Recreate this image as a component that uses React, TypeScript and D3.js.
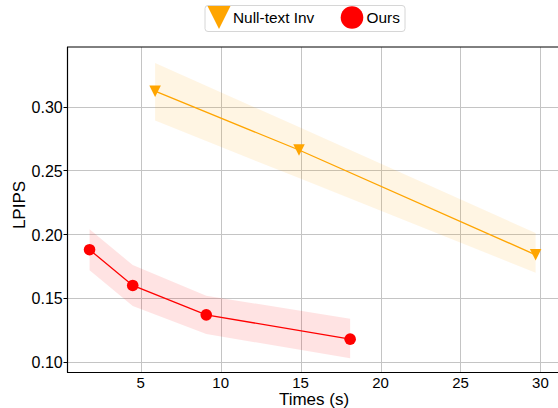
import React, { useEffect, useRef } from 'react';
import * as d3 from 'd3';

// Ours
const oursTimes = [1.8, 4.5, 9.1, 18.1];
const oursLpips = [0.188, 0.16, 0.137, 0.118];
const oursLower = [0.172, 0.144, 0.122, 0.103];
const oursUpper = [0.204, 0.176, 0.152, 0.134];

// Null-text Inversion
const nullTimes = [5.9, 14.9, 29.7];
const nullLpips = [0.312, 0.266, 0.184];
const nullLower = [0.289, 0.244, 0.17];
const nullUpper = [0.334, 0.284, 0.201];

const xTicks = [5, 10, 15, 20, 25, 30];
const yTicks = [0.1, 0.15, 0.2, 0.25, 0.3];

const FONT = '"Liberation Sans", Arial, sans-serif';

const App = () => {
  const svgRef = useRef<SVGSVGElement>(null);
  const width = 558;
  const height = 408;

  useEffect(() => {
    const svg = d3.select(svgRef.current);
    svg.selectAll('*').remove();

    const left = 67, top = 47, right = 558, bottom = 372.5;

    const x = d3.scaleLinear().domain([0.39, 31.1]).range([left, right]);
    const y = d3.scaleLinear().domain([0.0919, 0.3466]).range([bottom, top]);

    svg.append('rect').attr('width', width).attr('height', height).attr('fill', '#fff');

    // grid
    const grid = svg.append('g').attr('stroke', '#c4c4c4').attr('stroke-width', 1);
    xTicks.forEach(t => {
      grid.append('line')
        .attr('x1', Math.round(x(t)) + 0.5).attr('x2', Math.round(x(t)) + 0.5)
        .attr('y1', top).attr('y2', bottom);
    });
    yTicks.forEach(t => {
      grid.append('line')
        .attr('x1', left).attr('x2', right)
        .attr('y1', Math.round(y(t)) + 0.5).attr('y2', Math.round(y(t)) + 0.5);
    });

    // bands
    const band = (xs: number[], lo: number[], hi: number[]) =>
      d3.area<number>()
        .x((_, i) => x(xs[i]))
        .y0((_, i) => y(lo[i]))
        .y1((_, i) => y(hi[i]))(xs.map((_, i) => i));

    svg.append('path').attr('d', band(oursTimes, oursLower, oursUpper))
      .attr('fill', 'red').attr('fill-opacity', 0.11);
    svg.append('path').attr('d', band(nullTimes, nullLower, nullUpper))
      .attr('fill', 'orange').attr('fill-opacity', 0.11);

    const line = (xs: number[], ys: number[]) =>
      d3.line<number>().x(i => x(xs[i])).y(i => y(ys[i]))(xs.map((_, i) => i));

    svg.append('path').attr('d', line(nullTimes, nullLpips))
      .attr('fill', 'none').attr('stroke', 'orange').attr('stroke-width', 1.3);
    svg.append('path').attr('d', line(oursTimes, oursLpips))
      .attr('fill', 'none').attr('stroke', 'red').attr('stroke-width', 1.3);

    const tri = (s: number) => `M${-s / 2},${-s / 2}L${s / 2},${-s / 2}L0,${s / 2}Z`;

    nullTimes.forEach((t, i) => {
      svg.append('path').attr('d', tri(11.5))
        .attr('transform', `translate(${x(t)},${y(nullLpips[i])})`)
        .attr('fill', 'orange');
    });
    oursTimes.forEach((t, i) => {
      svg.append('circle').attr('cx', x(t)).attr('cy', y(oursLpips[i]))
        .attr('r', 5.8).attr('fill', 'red');
    });

    // spines
    svg.append('line').attr('x1', left).attr('x2', right).attr('y1', top).attr('y2', top)
      .attr('stroke', '#000').attr('stroke-width', 1);
    svg.append('line').attr('x1', left + 0.5).attr('x2', left + 0.5).attr('y1', top).attr('y2', bottom)
      .attr('stroke', '#000').attr('stroke-width', 1.2);
    svg.append('line').attr('x1', left).attr('x2', right).attr('y1', bottom).attr('y2', bottom)
      .attr('stroke', '#000').attr('stroke-width', 1.2);

    // y tick marks (outward)
    yTicks.forEach(t => {
      svg.append('line').attr('x1', left - 3.5).attr('x2', left)
        .attr('y1', Math.round(y(t)) + 0.5).attr('y2', Math.round(y(t)) + 0.5)
        .attr('stroke', '#000').attr('stroke-width', 1);
    });

    // tick labels
    xTicks.forEach(t => {
      svg.append('text').attr('x', x(t)).attr('y', 388)
        .attr('text-anchor', 'middle').attr('font-family', FONT).attr('font-size', 15)
        .text(String(t));
    });
    yTicks.forEach(t => {
      svg.append('text').attr('x', 62.7).attr('y', y(t) + 6.2)
        .attr('text-anchor', 'end').attr('font-family', FONT).attr('font-size', 16)
        .text(t.toFixed(2));
    });

    svg.append('text').attr('x', 314).attr('y', 405)
      .attr('text-anchor', 'middle').attr('font-family', FONT).attr('font-size', 17)
      .text('Times (s)');
    svg.append('text')
      .attr('transform', `translate(24.5,205) rotate(-90)`)
      .attr('text-anchor', 'middle').attr('font-family', FONT).attr('font-size', 17)
      .text('LPIPS');

    // legend
    const lg = svg.append('g');
    lg.append('rect').attr('x', 205).attr('y', 5.5).attr('width', 200).attr('height', 26)
      .attr('rx', 3).attr('fill', '#fff').attr('stroke', '#d6d6d6');
    lg.append('path').attr('d', tri(23)).attr('transform', 'translate(219,17.5)').attr('fill', 'orange');
    lg.append('text').attr('x', 233).attr('y', 22.5).attr('font-family', FONT).attr('font-size', 15.4)
      .text('Null-text Inv');
    lg.append('circle').attr('cx', 352).attr('cy', 17.5).attr('r', 11.3).attr('fill', 'red');
    lg.append('text').attr('x', 366.5).attr('y', 22.5).attr('font-family', FONT).attr('font-size', 15.4)
      .text('Ours');
  }, []);

  return (
    <svg ref={svgRef} width={width} height={height}
      style={{ position: 'absolute', left: 0, top: 0 }} />
  );
};

export default App;
